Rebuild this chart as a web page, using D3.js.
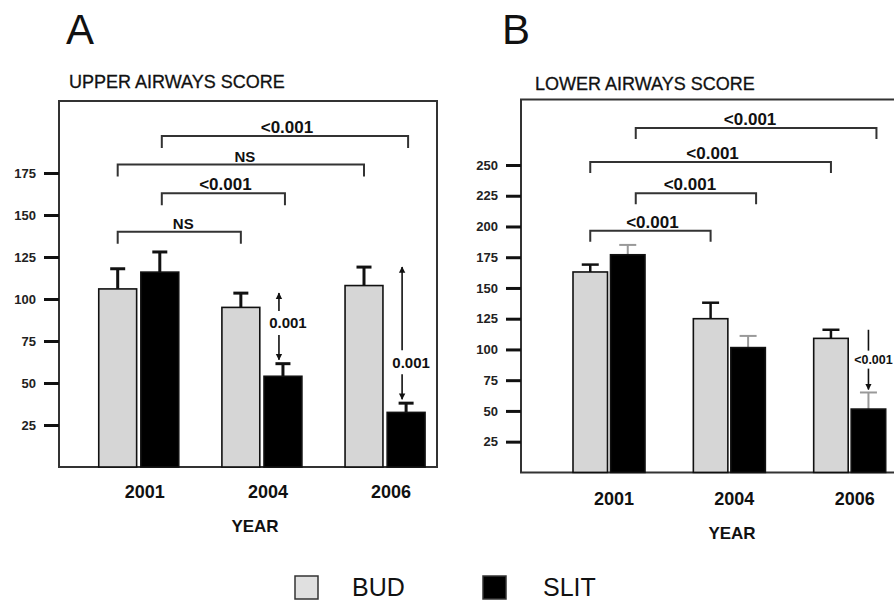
<!DOCTYPE html>
<html>
<head>
<meta charset="utf-8">
<title>Airways score</title>
<script src="https://cdnjs.cloudflare.com/ajax/libs/d3/7.8.5/d3.min.js"></script>
<style>
  body { margin: 0; background: #fff; }
  text { font-family: "Liberation Sans", Arial, sans-serif; }
</style>
</head>
<body>
<script>

// ---- data ----
var years = ["2001", "2004", "2006"]
var treatments = ["BUD", "SLIT"]

// panel A : upper airways score
var upperBud = [106, 95, 108]
var upperBudErr = [12, 8.5, 11]
var upperSlit = [116, 54, 32.5]
var upperSlitErr = [12, 7.5, 5.5]
var upperTicks = [25, 50, 75, 100, 125, 150, 175]

// panel B : lower airways score
var lowerBud = [163, 125, 109]
var lowerBudErr = [6, 13, 7]
var lowerSlit = [177, 101.5, 51.5]
var lowerSlitErr = [8, 9.5, 13.5]
var lowerTicks = [25, 50, 75, 100, 125, 150, 175, 200, 225, 250]

// comparison brackets: [year, treatment] -> [year, treatment], height in score units
var upperBrackets = [
  { from: ["2001", "BUD"], to: ["2004", "BUD"], level: 140, label: "NS" },
  { from: ["2001", "SLIT"], to: ["2004", "SLIT"], level: 163, label: "<0.001" },
  { from: ["2001", "BUD"], to: ["2006", "BUD"], level: 180, label: "NS" },
  { from: ["2001", "SLIT"], to: ["2006", "SLIT"], level: 197, label: "<0.001" }
]
var lowerBrackets = [
  { from: ["2001", "BUD"], to: ["2004", "BUD"], level: 196.5, label: "<0.001" },
  { from: ["2001", "SLIT"], to: ["2004", "SLIT"], level: 227, label: "<0.001" },
  { from: ["2001", "BUD"], to: ["2006", "BUD"], level: 252.5, label: "<0.001" },
  { from: ["2001", "SLIT"], to: ["2006", "SLIT"], level: 280, label: "<0.001" }
]

// BUD vs SLIT arrows inside a year (pos = where the label sits along the arrow)
var upperArrows = [
  { year: "2004", label: "0.001", pos: 0.45 },
  { year: "2006", label: "0.001", pos: 0.72 }
]
var lowerArrows = [
  { year: "2006", label: "<0.001", pos: 0.5 }
]

var W = 894, H = 601

var svg = d3.select("body").append("svg")
    .attr("width", W)
    .attr("height", H)

var defs = svg.append("defs")
defs.append("marker")
    .attr("id", "head")
    .attr("viewBox", "0 0 10 10")
    .attr("refX", 9).attr("refY", 5)
    .attr("markerWidth", 4).attr("markerHeight", 5)
    .attr("markerUnits", "strokeWidth")
    .attr("orient", "auto")
  .append("path")
    .attr("d", "M0,0 L10,5 L0,10 z")
    .attr("fill", "#111")

function drawPanel(p) {
    var g = svg.append("g")

    var y = d3.scaleLinear()
        .domain([0, p.ymax])
        .range([p.bottom, p.ytop])

    var x = d3.scaleBand()
        .domain(years)
        .range(p.xrange)
        .paddingInner(p.groupPad)

    var xIn = d3.scaleBand()
        .domain(treatments)
        .range([0, x.bandwidth()])
        .paddingInner(p.barPad)

    // letter + title
    g.append("text")
        .attr("x", p.letterX).attr("y", 44)
        .attr("font-size", 42)
        .attr("fill", "#111")
        .text(p.letter)
    g.append("text")
        .attr("x", p.titleX).attr("y", p.titleY)
        .attr("font-size", 18)
        .attr("fill", "#111")
        .attr("stroke", "#111")
        .attr("stroke-width", 0.3)
        .text(p.title)

    // frame
    g.append("path")
        .attr("d", p.frame)
        .attr("fill", "none")
        .attr("stroke", "#333")
        .attr("stroke-width", 2)

    // y axis ticks
    var ax = g.append("g")
        .attr("transform", "translate(" + p.left + ",0)")
        .call(d3.axisLeft(y).tickValues(p.ticks).tickSize(15).tickPadding(8))
    ax.select(".domain").remove()
    ax.selectAll(".tick line").attr("stroke", "#111").attr("stroke-width", 3)
    ax.selectAll(".tick text")
        .attr("font-family", "Liberation Sans, Arial, sans-serif")
        .attr("font-size", 13)
        .attr("font-weight", "bold")
        .attr("fill", "#222")

    // bars
    var rows = []
    years.forEach(function (yr, i) {
        rows.push({ year: yr, t: "BUD", v: p.bud[i], e: p.budErr[i] })
        rows.push({ year: yr, t: "SLIT", v: p.slit[i], e: p.slitErr[i] })
    })
    function cx(yr, t) { return x(yr) + xIn(t) + xIn.bandwidth() / 2 }
    function rowOf(yr, t) { return rows.find(function (r) { return r.year == yr && r.t == t }) }

    // error bars (drawn first, bars cover the stem base)
    var eb = g.selectAll(".err").data(rows).enter().append("g")
        .attr("stroke", function (d) { return d.t == "SLIT" ? p.slitErrColor : "#111" })
        .attr("stroke-width", function (d) { return d.t == "SLIT" ? p.slitErrWidth : p.errWidth })
    eb.append("line")
        .attr("x1", function (d) { return cx(d.year, d.t) })
        .attr("x2", function (d) { return cx(d.year, d.t) })
        .attr("y1", function (d) { return y(d.v) })
        .attr("y2", function (d) { return y(d.v + d.e) })
    eb.append("line")
        .attr("x1", function (d) { return cx(d.year, d.t) - p.cap / 2 })
        .attr("x2", function (d) { return cx(d.year, d.t) + p.cap / 2 })
        .attr("y1", function (d) { return y(d.v + d.e) })
        .attr("y2", function (d) { return y(d.v + d.e) })

    g.selectAll(".bar").data(rows).enter().append("rect")
        .attr("x", function (d) { return x(d.year) + xIn(d.t) })
        .attr("width", xIn.bandwidth())
        .attr("y", function (d) { return y(d.v) })
        .attr("height", function (d) { return y(0) - y(d.v) })
        .attr("fill", function (d) { return d.t == "BUD" ? "#d6d6d6" : "#000" })
        .attr("stroke", "#111")
        .attr("stroke-width", 1.6)

    // year labels
    g.selectAll(".yr").data(years).enter().append("text")
        .attr("x", function (d) { return x(d) + x.bandwidth() / 2 + p.labelShift })
        .attr("y", p.yearY)
        .attr("text-anchor", "middle")
        .attr("font-size", 18)
        .attr("font-weight", "bold")
        .attr("fill", "#111")
        .text(function (d) { return d })
    g.append("text")
        .attr("x", p.yearTitleX).attr("y", p.yearTitleY)
        .attr("text-anchor", "middle")
        .attr("font-size", 17)
        .attr("font-weight", "bold")
        .attr("fill", "#111")
        .text("YEAR")

    // brackets
    var br = g.selectAll(".br").data(p.brackets).enter().append("g")
    br.append("path")
        .attr("d", function (d) {
            var x1 = cx(d.from[0], d.from[1]) + (d.from[1] == "SLIT" ? p.slitLeg : 0)
            var x2 = cx(d.to[0], d.to[1]) + (d.to[1] == "SLIT" ? p.slitLeg : 0)
            var yy = y(d.level)
            return "M" + x1 + "," + (yy + p.leg) + "V" + yy + "H" + x2 + "V" + (yy + p.leg)
        })
        .attr("fill", "none")
        .attr("stroke", "#333")
        .attr("stroke-width", 2)
    br.append("text")
        .attr("x", function (d) {
            var x1 = cx(d.from[0], d.from[1]), x2 = cx(d.to[0], d.to[1])
            return (x1 + x2) / 2 + p.textShift
        })
        .attr("y", function (d) { return y(d.level) - 3 })
        .attr("text-anchor", "middle")
        .attr("font-family", function (d) { return d.label == "NS" ? "Liberation Sans, Arial, sans-serif" : "Liberation Serif, Times New Roman, serif" })
        .attr("font-size", function (d) { return d.label == "NS" ? 15 : 17 })
        .attr("font-weight", "bold")
        .attr("fill", "#111")
        .text(function (d) { return d.label })

    // arrows between BUD and SLIT of the same year
    p.arrows.forEach(function (a) {
        var bud = rowOf(a.year, "BUD"), slit = rowOf(a.year, "SLIT")
        var ax0 = cx(a.year, "SLIT") + p.arrowShift
        var yTop = y(bud.v + bud.e)
        var yBot = y(slit.v + slit.e) - p.arrowGap
        var yText = yTop + (yBot - yTop) * a.pos
        var up = g.append("line")
            .attr("x1", ax0).attr("x2", ax0)
            .attr("y1", yText - p.arrowBreak).attr("y2", yTop)
            .attr("stroke", "#111").attr("stroke-width", 1.6)
        if (p.arrowUpHead) up.attr("marker-end", "url(#head)")
        g.append("line")
            .attr("x1", ax0).attr("x2", ax0)
            .attr("y1", yText + p.arrowBreak).attr("y2", yBot)
            .attr("stroke", "#111").attr("stroke-width", 1.6)
            .attr("marker-end", "url(#head)")
        g.append("text")
            .attr("x", ax0 + p.arrowTextShift)
            .attr("y", yText + p.arrowFont * 0.36)
            .attr("text-anchor", "middle")
            .attr("font-size", p.arrowFont)
            .attr("font-weight", "bold")
            .attr("fill", "#111")
            .text(a.label)
    })
}

drawPanel({
    letter: "A", letterX: 66,
    title: "UPPER AIRWAYS SCORE", titleX: 69, titleY: 88,
    bud: upperBud, budErr: upperBudErr, slit: upperSlit, slitErr: upperSlitErr,
    ticks: upperTicks, ymax: 175, bottom: 467, ytop: 173,
    left: 59,
    frame: "M59,101H437V467H59Z",
    xrange: [98.75, 425.05], groupPad: 0.3504, barPad: 0.1,
    errWidth: 3, slitErrWidth: 3, slitErrColor: "#111", cap: 15,
    labelShift: 6, yearY: 498, yearTitleX: 255, yearTitleY: 532,
    brackets: upperBrackets, leg: 12, slitLeg: 2, textShift: 4,
    arrows: upperArrows, arrowShift: -4, arrowGap: 4, arrowBreak: 12,
    arrowTextShift: 9, arrowFont: 15, arrowUpHead: true
})

drawPanel({
    letter: "B", letterX: 502,
    title: "LOWER AIRWAYS SCORE", titleX: 535, titleY: 90,
    bud: lowerBud, budErr: lowerBudErr, slit: lowerSlit, slitErr: lowerSlitErr,
    ticks: lowerTicks, ymax: 250, bottom: 472.4, ytop: 165,
    left: 521,
    frame: "M894,99.5H521V472.4H894",
    xrange: [573, 885.7], groupPad: 0.4017, barPad: 0.08,
    errWidth: 2.5, slitErrWidth: 2, slitErrColor: "#999", cap: 17,
    labelShift: 5, yearY: 505, yearTitleX: 732, yearTitleY: 539,
    brackets: lowerBrackets, leg: 11, slitLeg: 8, textShift: 2,
    arrows: lowerArrows, arrowShift: 0, arrowGap: 3, arrowBreak: 9,
    arrowTextShift: 5, arrowFont: 12.5, arrowUpHead: false
})

// legend
var legend = svg.append("g")
var legX = d3.scalePoint().domain(treatments).range([295, 483])
legend.selectAll("rect").data(treatments).enter().append("rect")
    .attr("x", function (d) { return legX(d) })
    .attr("y", 576)
    .attr("width", 23).attr("height", 23)
    .attr("fill", function (d) { return d == "BUD" ? "#e0e0e0" : "#000" })
    .attr("stroke", "#333")
    .attr("stroke-width", 1.5)
legend.selectAll("text").data(treatments).enter().append("text")
    .attr("x", function (d) { return legX(d) + (d == "BUD" ? 57 : 60) })
    .attr("y", 596)
    .attr("font-size", 25)
    .attr("fill", "#111")
    .text(function (d) { return d })

</script>
</body>
</html>
